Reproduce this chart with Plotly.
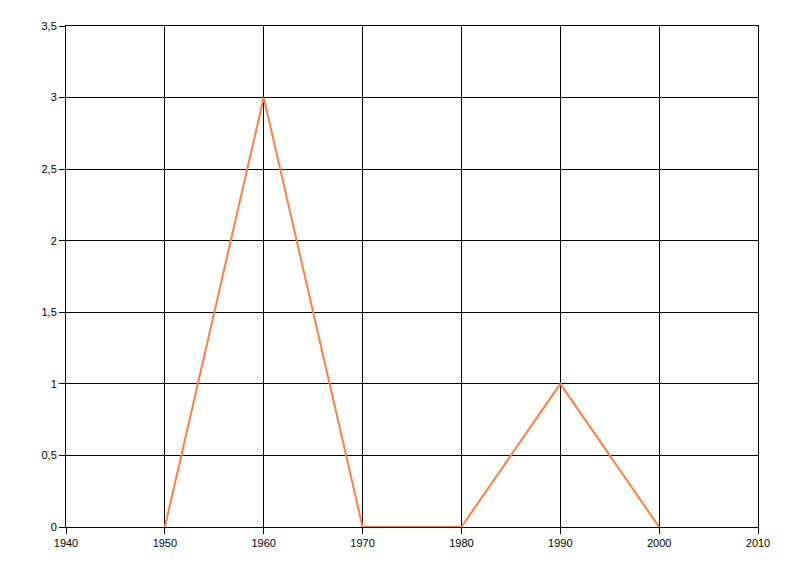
import plotly.graph_objects as go

years = [1950, 1960, 1970, 1980, 1990, 2000]
values = [0, 3, 0, 0, 1, 0]
x_ticks = [1940, 1950, 1960, 1970, 1980, 1990, 2000, 2010]
y_ticks = [0, 0.5, 1, 1.5, 2, 2.5, 3, 3.5]

fig = go.Figure()
fig.add_trace(go.Scatter(x=years, y=values, mode="lines",
                         line=dict(color="#FF7F45", width=2)))

axis_common = dict(showgrid=True, gridcolor="black", gridwidth=1,
                   showline=True, linecolor="black", linewidth=1, mirror=True,
                   ticks="outside", ticklen=6, tickcolor="black",
                   zeroline=False, tickfont=dict(family="Liberation Sans, Arial", size=11, color="black"))

fig.update_layout(
    width=800, height=576,
    margin=dict(l=58, r=50, t=18, b=57),
    paper_bgcolor="white", plot_bgcolor="white",
    showlegend=False,
    separators=", ",
    xaxis=dict(range=[1940, 2010], tickvals=x_ticks, **axis_common),
    yaxis=dict(range=[0, 3.5], tickvals=y_ticks, **axis_common),
)

fig.write_html("out.html")
